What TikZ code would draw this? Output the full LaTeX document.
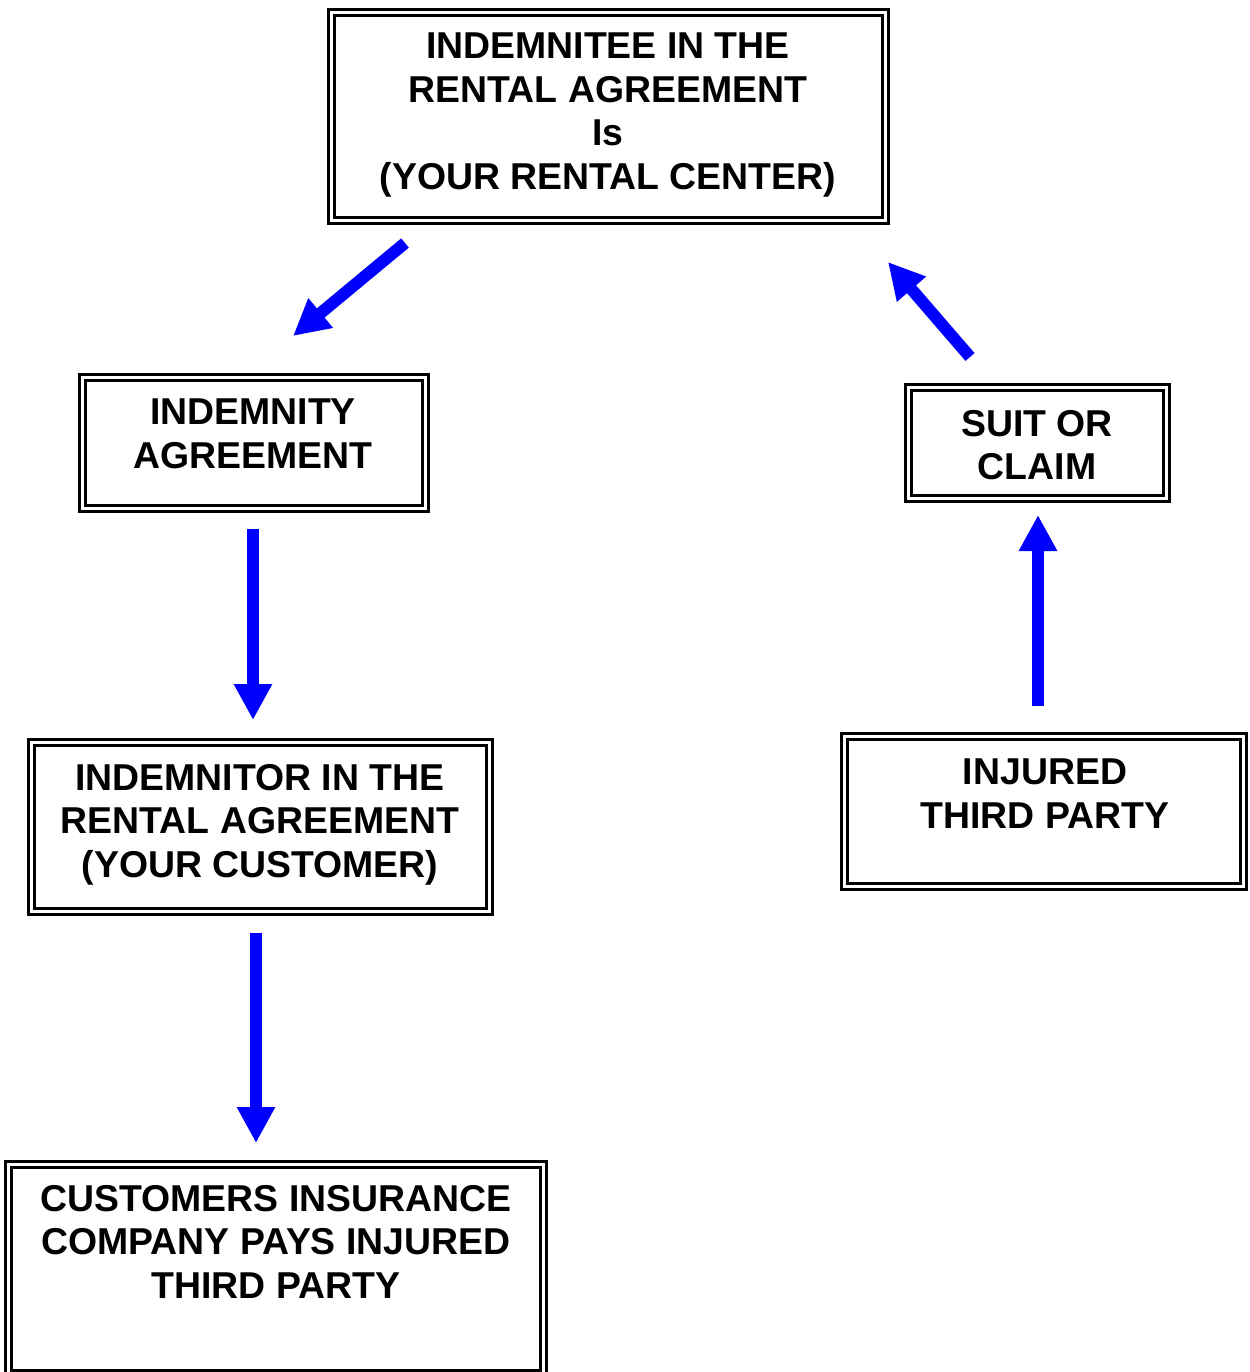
\documentclass[tikz,border=0pt]{standalone}
\usepackage{fontspec}
\setmainfont{Liberation Sans}
\usetikzlibrary{arrows.meta}
\begin{document}
\begin{tikzpicture}[x=1pt,y=-1pt,
  box/.style={draw=black, double=white, line width=2.6pt, double distance=3pt,
    inner sep=0pt, outer sep=0pt, anchor=north west, rectangle},
  label/.style={anchor=north, inner sep=0pt, align=center,
    font=\fontsize{37.4}{43.4}\selectfont\bfseries},
  bluearrow/.style={draw=blue, line width=12pt,
    -{Triangle[width=36pt,length=36pt]}}]
\path[use as bounding box] (0,0) rectangle (1249,1372);
% boxes
\node[box, minimum width=554pt, minimum height=208pt] (top) at (331.5,12.5) {};
\node[box, minimum width=343pt, minimum height=131pt] (indemnity) at (82.5,377.5) {};
\node[box, minimum width=458pt, minimum height=169pt] (indemnitor) at (31.5,742.5) {};
\node[box, minimum width=535pt, minimum height=209pt] (insurer) at (8.5,1164.5) {};
\node[box, minimum width=258pt, minimum height=111pt] (suit) at (908.5,387.5) {};
\node[box, minimum width=399pt, minimum height=150pt] (injured) at (844.5,736.5) {};
% texts
\node[label] (ttop) at (608,33) {INDEMNITEE IN THE\\RENTAL AGREEMENT\\Is\\(YOUR RENTAL CENTER)};
\node[label] (tindemnity) at (253,399) {INDEMNITY\\AGREEMENT};
\node[label] (tindemnitor) at (260,764) {INDEMNITOR IN THE\\RENTAL AGREEMENT\\(YOUR CUSTOMER)};
\node[label] (tinsurer) at (276,1185) {CUSTOMERS INSURANCE\\COMPANY PAYS INJURED\\THIRD PARTY};
\node[label] (tsuit) at (1037,410) {SUIT OR\\CLAIM};
\node[label] (tinjured) at (1045,759) {INJURED\\THIRD PARTY};
% arrow end points
\coordinate (a1s) at (405,243);
\coordinate (a1e) at (293,336);
\coordinate (a2s) at (253,529);
\coordinate (a2e) at (253,720);
\coordinate (a3s) at (256,933);
\coordinate (a3e) at (256,1143);
\coordinate (a4s) at (1038,706);
\coordinate (a4e) at (1038,515);
\coordinate (a5s) at (970,357);
\coordinate (a5e) at (888,262);
\draw[bluearrow] (a1s) -- (a1e);
\draw[bluearrow] (a2s) -- (a2e);
\draw[bluearrow] (a3s) -- (a3e);
\draw[bluearrow] (a4s) -- (a4e);
\draw[bluearrow] (a5s) -- (a5e);
\end{tikzpicture}
\end{document}
